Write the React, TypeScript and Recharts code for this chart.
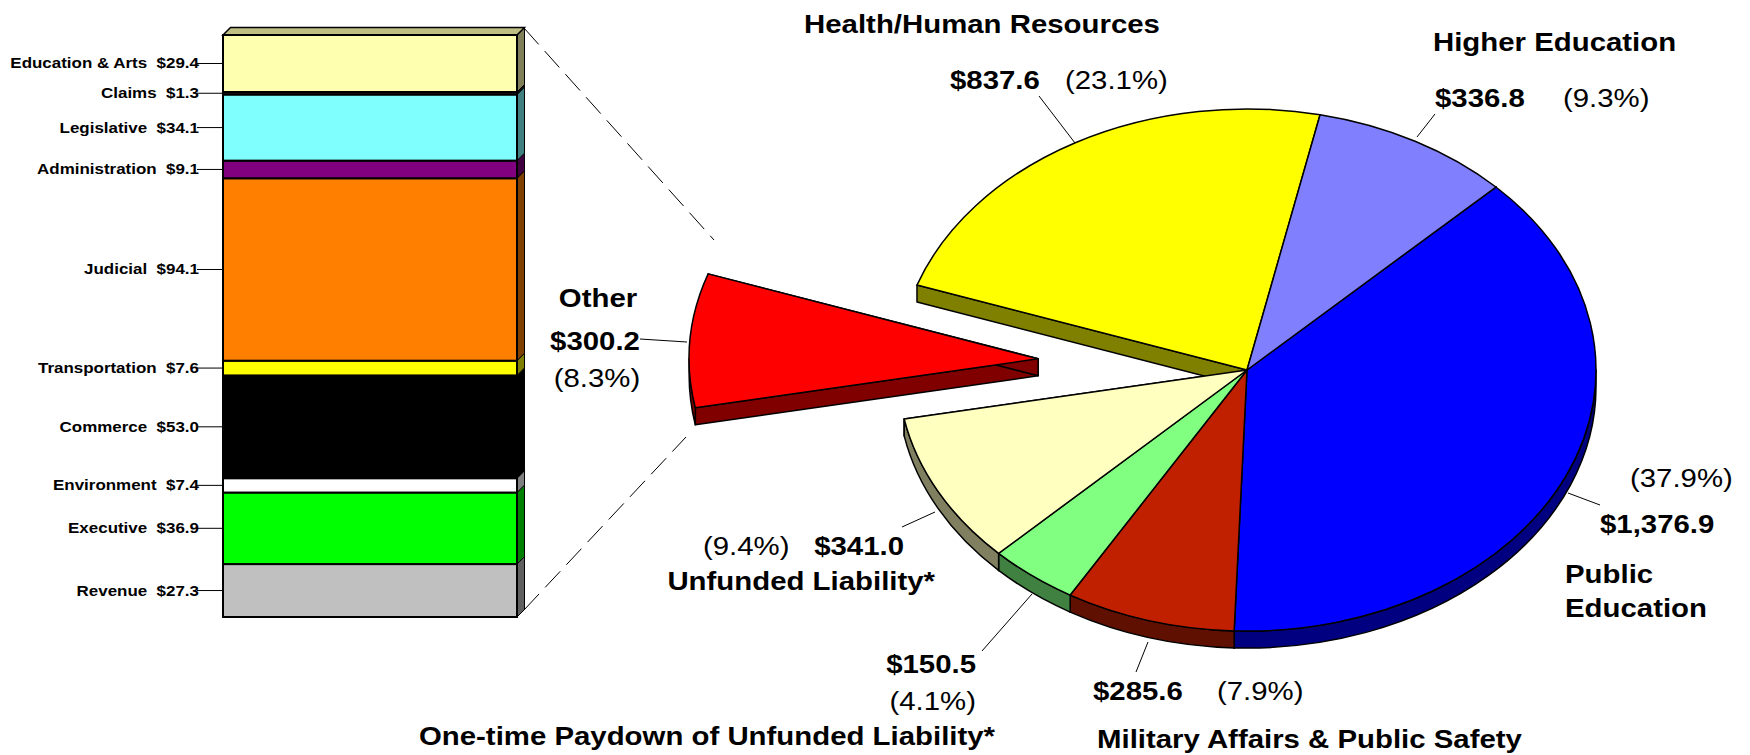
import React from 'react';
import { BarChart, Bar, XAxis, YAxis, PieChart, Pie } from 'recharts';

const FONT = '"Liberation Sans", Arial, Helvetica, sans-serif';
const STRETCH = 1.13; // the original art is a bit wider than tall

// general fund, $ millions, clockwise from upper right
const sliceNames = [
  'Public Education',
  'Military Affairs & Public Safety',
  'One-time Paydown of Unfunded Liability*',
  'Unfunded Liability*',
  'Other',
  'Health/Human Resources',
  'Higher Education',
];
const sliceValues = [1376.9, 285.6, 150.5, 341.0, 300.2, 837.6, 336.8];
const sliceColors = ['#0000FF', '#C02000', '#80FF80', '#FFFFC0', '#FF0000', '#FFFF00', '#8080FF'];
const explodedSlice = 'Other';

// breakdown of "Other", bottom of the stack first
const otherNames = [
  'Revenue', 'Executive', 'Environment', 'Commerce', 'Transportation',
  'Judicial', 'Administration', 'Legislative', 'Claims', 'Education & Arts',
];
const otherValues = [27.3, 36.9, 7.4, 53.0, 7.6, 94.1, 9.1, 34.1, 1.3, 29.4];
const otherColors = [
  '#C0C0C0', '#00FF00', '#FFFFFF', '#000000', '#FFFF00',
  '#FF8000', '#800080', '#80FFFF', '#1A1A1A', '#FFFFB0',
];

const pieData = sliceNames.map((name, i) => ({ name, value: sliceValues[i] }));
const barRow: Record<string, number | string> = { cat: 'Other' };
otherNames.forEach((n, i) => { barRow[n] = otherValues[i]; });
const barData = [barRow];
const otherTotal = otherValues.reduce((a, b) => a + b, 0);

// pie layout
const PIE_CX = 1247;
const PIE_CY = 370;
const PIE_R = 349;
const TILT = 0.748;
const DEPTH = 17;
const EXPLODE = 0.6;
const RAD = Math.PI / 180;

// bar layout
const BAR_D = 7.5;

type Pos = { x: number; y: number; a: 'start' | 'middle' | 'end' };
type LabelPos = { name: Pos; value: Pos; pct: Pos; leader: number[]; split?: number };

// label placement, same order as sliceNames
const sliceLabelPos: LabelPos[] = [
  { name: { x: 1565, y: 583, a: 'start' }, split: 34, value: { x: 1600, y: 533, a: 'start' }, pct: { x: 1630, y: 487, a: 'start' }, leader: [1568, 493, 1600, 505] },
  { name: { x: 1097, y: 748, a: 'start' }, value: { x: 1093, y: 700, a: 'start' }, pct: { x: 1217, y: 700, a: 'start' }, leader: [1148, 642, 1136, 672] },
  { name: { x: 995, y: 745, a: 'end' }, value: { x: 976, y: 673, a: 'end' }, pct: { x: 976, y: 710, a: 'end' }, leader: [982, 651, 1032, 594] },
  { name: { x: 935, y: 590, a: 'end' }, value: { x: 904, y: 555, a: 'end' }, pct: { x: 703, y: 555, a: 'start' }, leader: [902, 527, 935, 512] },
  { name: { x: 598, y: 307, a: 'middle' }, value: { x: 595, y: 350, a: 'middle' }, pct: { x: 597, y: 387, a: 'middle' }, leader: [640, 339, 687, 342] },
  { name: { x: 982, y: 33, a: 'middle' }, value: { x: 950, y: 89, a: 'start' }, pct: { x: 1065, y: 89, a: 'start' }, leader: [1039, 96, 1075, 143] },
  { name: { x: 1433, y: 51, a: 'start' }, value: { x: 1435, y: 107, a: 'start' }, pct: { x: 1563, y: 107, a: 'start' }, leader: [1435, 114, 1417, 137] },
];

const shade = (hex: string, f: number) => {
  const n = parseInt(hex.slice(1), 16);
  const c = [(n >> 16) & 255, (n >> 8) & 255, n & 255].map((v) => Math.round(v * f));
  return `rgb(${c.join(',')})`;
};

const Txt = ({ x, y, a, bold, size = 26, children }: any) => (
  <text
    transform={`translate(${x},${y}) scale(${STRETCH},1)`}
    textAnchor={a}
    fontFamily={FONT}
    fontSize={size}
    fontWeight={bold ? 'bold' : 'normal'}
    fill="#000"
    style={{ whiteSpace: 'pre' }}
  >
    {children}
  </text>
);

// tilted slice from the angles recharts computed
const geom = (p: any) => {
  const r = p.outerRadius;
  const ry = r * TILT;
  const a1 = Math.max(p.startAngle, p.endAngle);
  const a2 = Math.min(p.startAngle, p.endAngle);
  const mid = ((a1 + a2) / 2) * RAD;
  const k = sliceNames[p.index] === explodedSlice ? EXPLODE : 0;
  const cx = p.cx + k * r * Math.cos(mid);
  const cy = p.cy - k * ry * Math.sin(mid);
  const pt = (a: number, dy = 0) => `${cx + r * Math.cos(a * RAD)},${cy - ry * Math.sin(a * RAD) + dy}`;
  return { r, ry, a1, a2, cx, cy, pt };
};

const radialWalls = (p: any) => {
  const g = geom(p);
  const c = shade(sliceColors[p.index], 0.5);
  return (
    <g>
      {[g.a1, g.a2].map((a, j) => (
        <path
          key={j}
          d={`M${g.cx},${g.cy} L${g.pt(a)} L${g.pt(a, DEPTH)} L${g.cx},${g.cy + DEPTH} Z`}
          fill={c}
          stroke="#000"
          strokeWidth={1.5}
          strokeLinejoin="round"
        />
      ))}
    </g>
  );
};

const outerWalls = (p: any) => {
  const g = geom(p);
  const c = shade(sliceColors[p.index], 0.5);
  const paths: string[] = [];
  for (let k = -2; k <= 2; k++) {
    const hi = Math.min(g.a1, 360 * k);
    const lo = Math.max(g.a2, 360 * k - 180);
    if (hi - lo > 0.01) {
      paths.push(
        `M${g.pt(hi)} A${g.r},${g.ry} 0 0 1 ${g.pt(lo)} L${g.pt(lo, DEPTH)} A${g.r},${g.ry} 0 0 0 ${g.pt(hi, DEPTH)} Z`
      );
    }
  }
  return (
    <g>
      {paths.map((d, j) => (
        <path key={j} d={d} fill={c} stroke="#000" strokeWidth={1.5} strokeLinejoin="round" />
      ))}
    </g>
  );
};

const topFaces = (p: any) => {
  const g = geom(p);
  const large = g.a1 - g.a2 > 180 ? 1 : 0;
  return (
    <path
      d={`M${g.cx},${g.cy} L${g.pt(g.a1)} A${g.r},${g.ry} 0 ${large} 1 ${g.pt(g.a2)} Z`}
      fill={sliceColors[p.index]}
      stroke="#000"
      strokeWidth={1.5}
      strokeLinejoin="round"
    />
  );
};

const sliceText = (p: any) => {
  const i = p.index;
  const pos = sliceLabelPos[i];
  const value = sliceValues[i].toLocaleString('en-US', { minimumFractionDigits: 1, maximumFractionDigits: 1 });
  const pct = `(${(p.percent * 100).toFixed(1)}%)`;
  const nameLines = pos.split ? sliceNames[i].split(' ') : [sliceNames[i]];
  const [x1, y1, x2, y2] = pos.leader;
  return (
    <g>
      <line x1={x1} y1={y1} x2={x2} y2={y2} stroke="#000" strokeWidth={1} />
      {nameLines.map((t, j) => (
        <Txt key={j} x={pos.name.x} y={pos.name.y + j * (pos.split || 0)} a={pos.name.a} bold>
          {t}
        </Txt>
      ))}
      <Txt {...pos.value} bold>{`$${value}`}</Txt>
      <Txt {...pos.pct}>{pct}</Txt>
    </g>
  );
};

const makeSegment = (i: number) => (p: any) => {
  const { x, y, width: w, height: h } = p;
  const c = otherColors[i];
  const isTop = i === otherNames.length - 1;
  const mid = y + h / 2;
  return (
    <g>
      <path
        d={`M${x + w},${y} L${x + w + BAR_D},${y - BAR_D} L${x + w + BAR_D},${y + h - BAR_D} L${x + w},${y + h} Z`}
        fill={shade(c, 0.5)}
        stroke="#000"
        strokeWidth={1}
      />
      {isTop && (
        <path
          d={`M${x},${y} L${x + BAR_D},${y - BAR_D} L${x + w + BAR_D},${y - BAR_D} L${x + w},${y} Z`}
          fill={shade(c, 0.75)}
          stroke="#000"
          strokeWidth={1.5}
        />
      )}
      <rect x={x} y={y} width={w} height={h} fill={c} stroke="#000" strokeWidth={2} />
      <Txt x={x - 24} y={mid + 5} a="end" bold size={15}>
        {`${otherNames[i]}  $${otherValues[i].toFixed(1)}`}
      </Txt>
      <line x1={x - 26} y1={mid} x2={x} y2={mid} stroke="#000" strokeWidth={1} />
    </g>
  );
};

const pieCommon = {
  data: pieData,
  dataKey: 'value',
  nameKey: 'name',
  cx: PIE_CX,
  cy: PIE_CY,
  outerRadius: PIE_R,
  startAngle: 44.5,
  endAngle: -315.5,
  fill: 'none',
  stroke: 'none',
  labelLine: false,
  isAnimationActive: false,
};

export default function App() {
  return (
    <div style={{ position: 'relative', width: 1750, height: 755, background: '#fff' }}>
      <style>{'body{margin:0}'}</style>
      <div style={{ position: 'absolute', left: 0, top: 0 }}>
        <BarChart
          width={560}
          height={755}
          data={barData}
          margin={{ top: 35, right: 43, bottom: 138, left: 223 }}
          barCategoryGap={0}
        >
          <XAxis dataKey="cat" hide />
          <YAxis type="number" domain={[0, otherTotal]} hide />
          {otherNames.map((n, i) => (
            <Bar key={n} dataKey={n} stackId="other" shape={makeSegment(i)} isAnimationActive={false} />
          ))}
        </BarChart>
      </div>
      <div style={{ position: 'absolute', left: 0, top: 0 }}>
        <PieChart width={1750} height={755} margin={{ top: 0, right: 0, bottom: 0, left: 0 }}>
          <Pie {...pieCommon} label={radialWalls} />
          <Pie {...pieCommon} label={outerWalls} />
          <Pie {...pieCommon} label={topFaces} />
          <Pie {...pieCommon} label={sliceText} />
        </PieChart>
      </div>
      <svg width={1750} height={755} style={{ position: 'absolute', left: 0, top: 0, pointerEvents: 'none' }}>
        <line x1={524} y1={28} x2={714} y2={240} stroke="#000" strokeWidth={1} strokeDasharray="22 9" />
        <line x1={524} y1={610} x2={686} y2={437} stroke="#000" strokeWidth={1} strokeDasharray="22 9" />
      </svg>
    </div>
  );
}
